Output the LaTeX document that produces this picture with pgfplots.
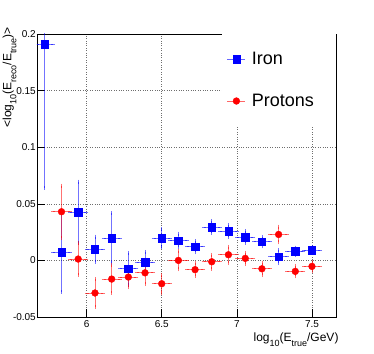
\documentclass[border=0pt]{standalone}
\usepackage{fontspec}
\setmainfont{Liberation Sans}
\usepackage{pgfplots}
\pgfplotsset{compat=1.18}
\definecolor{rootBlue}{RGB}{0,0,255}
\definecolor{rootRed}{RGB}{255,0,0}
\definecolor{gridGray}{RGB}{110,110,110}
% ROOT-like subscript: large and dropped well below the baseline
\newcommand{\rsub}[1]{\raisebox{-5pt}{\fontsize{9}{10}\selectfont #1}}

\begin{document}
\begin{tikzpicture}
\begin{axis}[
  scale only axis, width=299pt, height=283pt,
  xmin=5.67, xmax=7.66, ymin=-0.05, ymax=0.2,
  xtick={6,6.5,7,7.5}, xticklabels={6,6.5,7,7.5},
  ytick={-0.05,0,0.05,0.1,0.15,0.2},
  yticklabels={-0.05,0,0.05,0.1,0.15,0.2},
  tick align=inside, major tick length=8pt,
  xtick pos=bottom, ytick pos=left,
  tick style={black, line width=0.6pt},
  grid=major, major grid style={dotted, gridGray, line width=0.5pt},
  axis line style={black, line width=0.7pt},
  tick label style={font=\fontsize{10}{12}\selectfont},
  yticklabel style={inner sep=1pt},
  xlabel={log\rsub{10}(E\rsub{true}/GeV)},
  ylabel={<log\rsub{10}(E\rsub{reco}/E\rsub{true})>},
  every axis x label/.style={at={(axis description cs:1.009,-0.0883)}, anchor=base east,
    inner sep=0pt, font=\fontsize{12}{14}\selectfont},
  every axis y label/.style={at={(axis description cs:-0.0853,1.0247)}, rotate=90,
    anchor=base east, inner sep=0pt, font=\fontsize{12}{14}\selectfont},
  legend cell align=left,
  legend style={at={(axis description cs:1,1)}, anchor=north east, draw=none, fill=white,
    font=\fontsize{18}{20}\selectfont, inner xsep=5pt, inner ysep=18pt, row sep=28pt,
    column sep=6pt, nodes={inner sep=0pt}},
  legend image code/.code={
    \draw[#1, opacity=0.6, line width=0.8pt] (0pt,0pt) -- (18pt,0pt);
    \draw[#1] plot coordinates {(9pt,0pt)};
  },
  error bars/x dir=both, error bars/x explicit,
  error bars/y dir=both, error bars/y explicit,
]
\addplot+[only marks, mark=square*, mark size=3.7pt, rootBlue, mark options={fill=rootBlue, draw=rootBlue},
  error bars/error bar style={rootBlue, opacity=0.55, line width=0.8pt},
  error bars/error mark options={rootBlue, opacity=0.55, mark size=2pt, line width=0.8pt}]
  coordinates {
  (5.722,0.191) +- (0.054,0.127)
  (5.833,0.0074) +- (0.054,0.035)
  (5.944,0.0426) +- (0.054,0.027)
  (6.056,0.010) +- (0.054,0.011)
  (6.167,0.0197) +- (0.054,0.022)
  (6.278,-0.0074) +- (0.054,0.014)
  (6.389,-0.0015) +- (0.054,0.009)
  (6.5,0.0197) +- (0.054,0.008)
  (6.611,0.0176) +- (0.054,0.006)
  (6.722,0.012) +- (0.054,0.005)
  (6.833,0.0294) +- (0.054,0.005)
  (6.944,0.0259) +- (0.054,0.005)
  (7.056,0.0206) +- (0.054,0.005)
  (7.167,0.0165) +- (0.054,0.004)
  (7.278,0.0035) +- (0.054,0.0055)
  (7.389,0.0082) +- (0.054,0.003)
  (7.5,0.0091) +- (0.054,0.003)
  };
\addlegendentry{\makebox[79pt][l]{Iron}}
\addplot+[only marks, mark=*, mark size=3.4pt, rootRed, mark options={fill=rootRed, draw=rootRed},
  error bars/error bar style={rootRed, opacity=0.55, line width=0.8pt},
  error bars/error mark options={rootRed, opacity=0.55, mark size=2pt, line width=0.8pt}]
  coordinates {
  (5.833,0.043) +- (0.054,0.023)
  (5.944,0.0012) +- (0.054,0.014)
  (6.056,-0.0288) +- (0.054,0.012)
  (6.167,-0.0165) +- (0.054,0.012)
  (6.278,-0.0147) +- (0.054,0.009)
  (6.389,-0.011) +- (0.054,0.010)
  (6.5,-0.0206) +- (0.054,0.008)
  (6.611,0.0) +- (0.054,0.008)
  (6.722,-0.0082) +- (0.054,0.0055)
  (6.833,-0.0012) +- (0.054,0.006)
  (6.944,0.005) +- (0.054,0.007)
  (7.056,0.0018) +- (0.054,0.005)
  (7.167,-0.0074) +- (0.054,0.0055)
  (7.278,0.0229) +- (0.054,0.007)
  (7.389,-0.0097) +- (0.054,0.0045)
  (7.5,-0.0053) +- (0.054,0.004)
  };
\addlegendentry{\makebox[79pt][l]{Protons}}
\end{axis}
\pgfresetboundingbox
\path (current axis.south west) ++(-37pt,-36pt) rectangle ++(374pt,353pt);
\end{tikzpicture}
\end{document}
